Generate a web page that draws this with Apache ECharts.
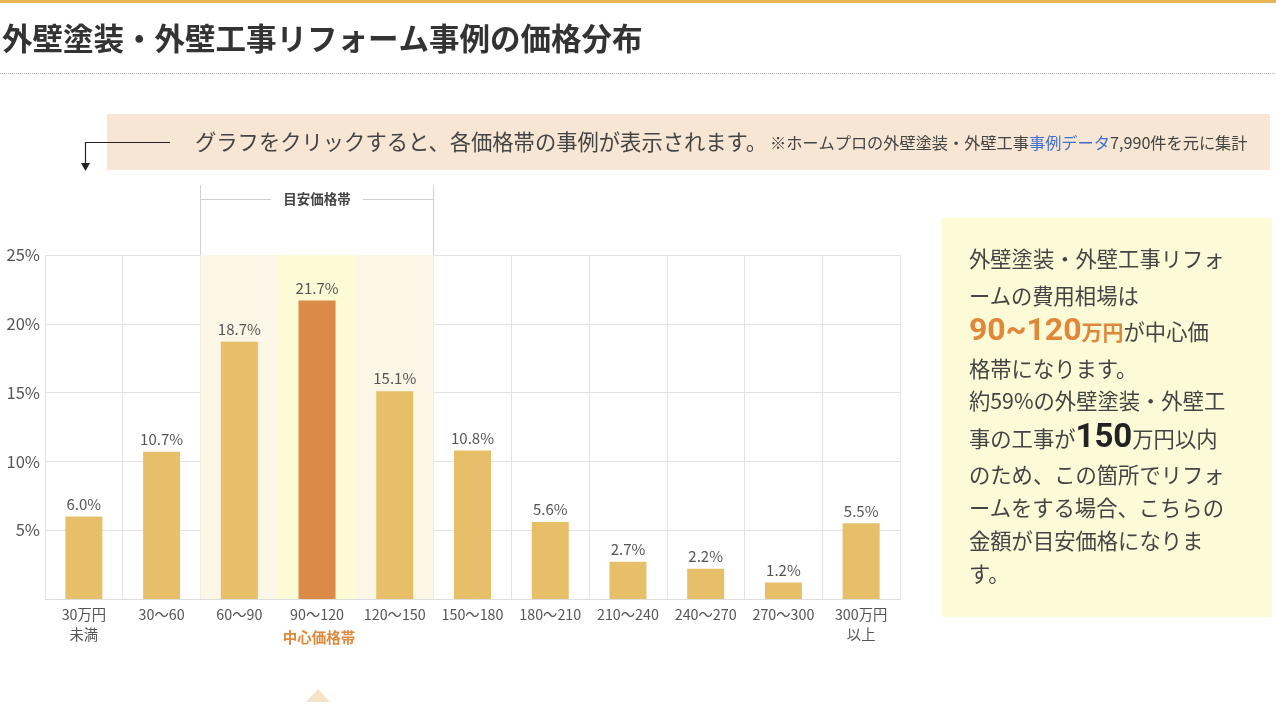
<!DOCTYPE html>
<html>
<head>
<meta charset="utf-8">
<script src="https://cdn.jsdelivr.net/npm/echarts@6/dist/echarts.min.js"></script>
<style>
html,body{margin:0;padding:0;background:#fff;}
#c{width:1276px;height:714px;}
</style>
</head>
<body>
<div id="c"></div>
<script>
var categories = ['30万円\n未満','30〜60','60〜90','90〜120','120〜150','150〜180','180〜210','210〜240','240〜270','270〜300','300万円\n以上'];
var shares = [6.0, 10.7, 18.7, 21.7, 15.1, 10.8, 5.6, 2.7, 2.2, 1.2, 5.5];
var yTicks = [0, 5, 10, 15, 20, 25];
var centerIndex = 3;
var guideIndices = [2, 3, 4];

var FONT = '"Noto Sans CJK JP", "Noto Sans", sans-serif';
var chart = echarts.init(document.getElementById('c'), null, {renderer: 'canvas'});

var barData = shares.map(function (v, i) {
  return {value: v, itemStyle: {color: i === centerIndex ? '#db8b47' : '#e6bf68'}};
});
var bgData = categories.map(function (c, i) {
  if (guideIndices.indexOf(i) < 0) return null;
  return {value: yTicks[yTicks.length - 1], itemStyle: {color: i === centerIndex ? '#fdfad6' : '#fbf6e5'}};
});

var option = {
  animation: false,
  textStyle: {fontFamily: FONT},
  grid: {left: 45, right: 376, top: 255, bottom: 115, containLabel: false},
  xAxis: [{
    type: 'category',
    data: categories,
    axisLine: {show: true, lineStyle: {color: '#dddddd'}},
    axisTick: {show: false},
    splitLine: {show: true, interval: 0, lineStyle: {color: '#e3e3e3'}},
    axisLabel: {interval: 0, color: '#555', fontSize: 14.3, lineHeight: 20, margin: 6, fontFamily: FONT}
  }, {
    type: 'category',
    data: categories,
    show: false
  }],
  yAxis: {
    type: 'value',
    min: yTicks[0], max: yTicks[yTicks.length - 1], interval: 5,
    axisLine: {show: false},
    axisTick: {show: false},
    splitLine: {lineStyle: {color: '#e3e3e3'}},
    axisLabel: {color: '#555', fontSize: 16.5, margin: 5, fontFamily: FONT,
      formatter: function (v) { return v === 0 ? '' : v + '%'; }}
  },
  series: [{
    type: 'bar',
    xAxisIndex: 1,
    data: bgData,
    barWidth: '100%',
    silent: true,
    z: 1
  }, {
    type: 'bar',
    xAxisIndex: 0,
    data: barData,
    barWidth: 37,
    z: 3,
    label: {show: true, position: 'top', distance: 5, color: '#555', fontSize: 15, fontFamily: FONT,
      formatter: function (p) { return p.value.toFixed(1) + '%'; }}
  }]
};
chart.setOption(option);

// decorations positioned from chart scales
var band = chart.convertToPixel({xAxisIndex: 0}, 1) - chart.convertToPixel({xAxisIndex: 0}, 0);
var gLeft = chart.convertToPixel({xAxisIndex: 0}, guideIndices[0]) - band / 2;
var gRight = chart.convertToPixel({xAxisIndex: 0}, guideIndices[guideIndices.length - 1]) + band / 2;
var cX = chart.convertToPixel({xAxisIndex: 0}, centerIndex);
var gMid = (gLeft + gRight) / 2;
var topY = chart.convertToPixel({yAxisIndex: 0}, yTicks[yTicks.length - 1]);

var txt = function (x, y, text, style) {
  return {type: 'text', x: x, y: y, silent: true,
    style: Object.assign({text: text, fontFamily: FONT, textVerticalAlign: 'middle', verticalAlign: 'middle'}, style)};
};

var rightLines = [
  {y: 259, text: '外壁塗装・外壁工事リフォ'},
  {y: 296, text: 'ームの費用相場は'},
  {y: 332, rich: '{o|90~120}{os|万円}{n|が中心価}'},
  {y: 369, text: '格帯になります。'},
  {y: 401, text: '約59%の外壁塗装・外壁工'},
  {y: 439, rich: '{n|事の工事が}{b|150}{n|万円以内}'},
  {y: 475, text: 'のため、この箇所でリフォ'},
  {y: 508, text: 'ームをする場合、こちらの'},
  {y: 541, text: '金額が目安価格になりま'},
  {y: 574, text: 'す。'}
];
var RFS = 21.3;
var richStyles = {
  n: {fontSize: RFS, fill: '#444', fontFamily: FONT},
  o: {fontSize: 32, fontWeight: 'bold', fill: '#e0873a', fontFamily: 'Roboto, "Noto Sans", sans-serif'},
  os: {fontSize: 21, fontWeight: 'bold', fill: '#e0873a', fontFamily: FONT},
  b: {fontSize: 33, fontWeight: 'bold', fill: '#222', fontFamily: 'Roboto, "Noto Sans", sans-serif'}
};

var graphics = [
  {type: 'rect', silent: true, shape: {x: 0, y: 0, width: 1276, height: 3}, style: {fill: '#e8b454'}},
  txt(2, 38, '外壁塗装・外壁工事リフォーム事例の価格分布', {fontSize: 30.5, fontWeight: 'bold', fill: '#333'}),
  {type: 'line', silent: true, shape: {x1: 0, y1: 73.5, x2: 1276, y2: 73.5}, style: {stroke: '#b5b5b5', lineWidth: 1, lineDash: [1, 1]}},
  {type: 'rect', silent: true, shape: {x: 107, y: 114, width: 1163, height: 56}, style: {fill: '#f6e6d3'}},
  {type: 'polyline', silent: true, shape: {points: [[170, 142.5], [85.5, 142.5], [85.5, 164]]}, style: {stroke: '#222', lineWidth: 1.2, fill: null}},
  {type: 'polygon', silent: true, shape: {points: [[81, 163], [90, 163], [85.5, 171]]}, style: {fill: '#222'}},
  txt(195, 142, 'グラフをクリックすると、各価格帯の事例が表示されます。', {fontSize: 21.3, fill: '#444'}),
  txt(770, 143, '{n|※ホームプロの外壁塗装・外壁工事}{l|事例データ}{n|7,990件を元に集計}', {
    rich: {n: {fontSize: 16.2, fill: '#444', fontFamily: FONT}, l: {fontSize: 16.2, fill: '#3f6fcf', fontFamily: FONT}}
  }),
  // guide bracket
  {type: 'line', silent: true, shape: {x1: gLeft, y1: 185, x2: gLeft, y2: topY}, style: {stroke: '#cfcfcf', lineWidth: 1}},
  {type: 'line', silent: true, shape: {x1: gRight, y1: 185, x2: gRight, y2: topY}, style: {stroke: '#cfcfcf', lineWidth: 1}},
  {type: 'line', silent: true, shape: {x1: gLeft, y1: 199.5, x2: gMid - 46, y2: 199.5}, style: {stroke: '#cfcfcf', lineWidth: 1}},
  {type: 'line', silent: true, shape: {x1: gMid + 46, y1: 199.5, x2: gRight, y2: 199.5}, style: {stroke: '#cfcfcf', lineWidth: 1}},
  txt(gMid, 199, '目安価格帯', {fontSize: 13.5, fontWeight: 'bold', fill: '#444', textAlign: 'center', align: 'center'}),
  txt(cX + 2, 637, '中心価格帯', {fontSize: 14.5, fontWeight: 'bold', fill: '#e0893a', textAlign: 'center', align: 'center'}),
  {type: 'polygon', silent: true, shape: {points: [[cX + 1, 689], [cX - 11, 702], [cX + 13, 702]]}, style: {fill: '#f6e2c8'}},
  // right info box
  {type: 'rect', silent: true, shape: {x: 942, y: 218, width: 330, height: 399}, style: {fill: '#fdfad7'}}
];
rightLines.forEach(function (l) {
  if (l.rich) {
    graphics.push(txt(969, l.y, l.rich, {rich: richStyles}));
  } else {
    graphics.push(txt(969, l.y, l.text, {fontSize: RFS, fill: '#444'}));
  }
});
chart.setOption({graphic: graphics});
</script>
</body>
</html>
